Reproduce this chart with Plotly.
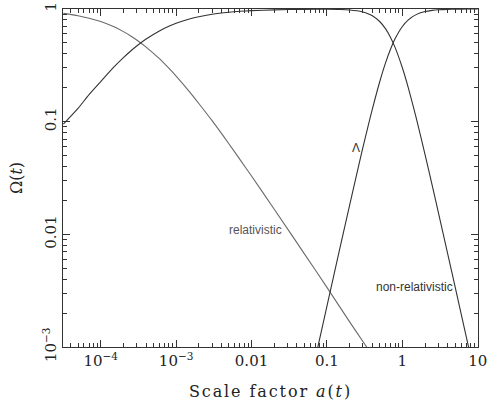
import plotly.graph_objects as go

# Scale factor samples
a_rel = [3.2e-5, 5e-5, 7e-5, 1e-4, 1.5e-4, 2e-4, 2.5e-4, 3e-4, 4e-4, 6e-4, 8e-4, 1e-3, 1.5e-3,
         2e-3, 3e-3, 5e-3, 7e-3, 0.01, 0.02, 0.05, 0.1, 0.2, 0.3, 0.4, 0.5]
omega_rel = [0.914, 0.872, 0.829, 0.773, 0.694, 0.630, 0.576, 0.531, 0.459, 0.362, 0.298, 0.254,
             0.185, 0.145, 0.102, 0.0637, 0.0463, 0.0329, 0.0167, 0.00675, 0.00338, 0.00167,
             0.00112, 0.00084, 0.00066]

a_mat = [3.2e-5, 5e-5, 7e-5, 1e-4, 1.5e-4, 2e-4, 2.5e-4, 3e-4, 4e-4, 6e-4, 8e-4, 1e-3, 1.5e-3,
         2e-3, 3e-3, 5e-3, 7e-3, 0.01, 0.02, 0.05, 0.1, 0.15, 0.2, 0.25, 0.3, 0.35, 0.4, 0.5,
         0.6, 0.7, 0.8, 1.0, 1.2, 1.5, 2, 2.5, 3, 4, 5, 7.5, 10]
omega_mat = [0.095, 0.131, 0.174, 0.227, 0.306, 0.370, 0.424, 0.469, 0.541, 0.638, 0.702, 0.746,
             0.815, 0.855, 0.898, 0.936, 0.954, 0.967, 0.983, 0.993, 0.994, 0.990, 0.980, 0.9637,
             0.940, 0.9086, 0.870, 0.7745, 0.6656, 0.5563, 0.4566, 0.3009, 0.1994, 0.1131, 0.0510,
             0.0268, 0.0157, 0.00668, 0.00343, 0.00102, 0.00043]

a_lam = [0.05, 0.07, 0.1, 0.15, 0.2, 0.25, 0.3, 0.35, 0.4, 0.5, 0.6, 0.7, 0.8, 1.0, 1.2, 1.5,
         2, 2.5, 3, 4, 5, 7.5, 10]
omega_lam = [0.00029, 0.00079, 0.00231, 0.00776, 0.0182, 0.0350, 0.0590, 0.0905, 0.1294, 0.225,
             0.334, 0.4434, 0.5433, 0.699, 0.8006, 0.8869, 0.949, 0.973, 0.984, 0.9933, 0.9966,
             0.999, 0.9996]

x_tickvals = [1e-4, 1e-3, 1e-2, 1e-1, 1, 10]
x_ticktext = ["10<sup>−4</sup>", "10<sup>−3</sup>", "0.01", "0.1", "1", "10"]
y_tickvals = [1e-3, 1e-2, 1e-1, 1]
y_ticktext = ["10<sup>−3</sup>", "0.01", "0.1", "1"]

x_minor = [m * 10.0 ** e for e in range(-5, 1) for m in range(2, 10)]
y_minor = [m * 10.0 ** e for e in range(-3, 0) for m in range(2, 10)]

fig = go.Figure()
fig.add_trace(go.Scatter(x=a_rel, y=omega_rel, mode="lines",
                         line=dict(color="#6a6a6a", width=1.1, shape="spline", smoothing=0.6),
                         showlegend=False))
fig.add_trace(go.Scatter(x=a_mat, y=omega_mat, mode="lines",
                         line=dict(color="#333333", width=1.1, shape="spline", smoothing=0.6),
                         showlegend=False))
fig.add_trace(go.Scatter(x=a_lam, y=omega_lam, mode="lines",
                         line=dict(color="#333333", width=1.1, shape="spline", smoothing=0.6),
                         showlegend=False))
# helper trace so the minor-tick overlay axes are drawn
fig.add_trace(go.Scatter(x=[1e-2], y=[1e-2], xaxis="x2", yaxis="y2", mode="markers",
                         marker=dict(opacity=0), showlegend=False, hoverinfo="skip"))

serif = "DejaVu Serif"
sans = "Liberation Sans"
ink = "#333333"

axis_common = dict(
    type="log",
    showline=True, linecolor=ink, linewidth=1.2,
    mirror="allticks",
    ticks="inside", ticklen=7, tickwidth=1, tickcolor=ink,
    showgrid=False, zeroline=False, automargin=False,
    ticklabeloverflow="allow",
    tickfont=dict(family=serif, size=15, color="#222222"),
)
minor_common = dict(
    type="log", showline=False, mirror="allticks",
    ticks="inside", ticklen=4, tickwidth=1, tickcolor=ink,
    showgrid=False, zeroline=False, showticklabels=False, automargin=False,
    tickmode="array",
)

x_range = [-4.5, 1.003]

fig.update_layout(
    width=488, height=409,
    margin=dict(l=63, r=10, t=9, b=62),
    paper_bgcolor="white", plot_bgcolor="white",
    xaxis=dict(
        **axis_common,
        range=x_range,
        tickmode="array", tickvals=x_tickvals, ticktext=x_ticktext,
        title=dict(text="<span style=\"letter-spacing:1.9px\">Scale factor <i>a</i>(<i>t</i>)</span>",
                   font=dict(family=serif, size=16, color="#222222"), standoff=16),
    ),
    yaxis=dict(
        **axis_common,
        range=[-3, 0],
        tickmode="array", tickvals=y_tickvals, ticktext=y_ticktext,
        tickangle=-90,
        title=dict(text="Ω(<i>t</i>)",
                   font=dict(family=serif, size=16, color="#222222"), standoff=12),
    ),
    xaxis2=dict(**minor_common, range=x_range, tickvals=x_minor,
                overlaying="x", anchor="y2", side="bottom"),
    yaxis2=dict(**minor_common, range=[-3, 0], tickvals=y_minor,
                overlaying="y", anchor="x2", side="left"),
    annotations=[
        dict(x=-1.946, y=-1.961, xref="x", yref="y", text="relativistic", showarrow=False,
             font=dict(family=sans, size=12, color="#555555")),
        dict(x=0.165, y=-2.467, xref="x", yref="y", text="non-relativistic", showarrow=False,
             font=dict(family=sans, size=12, color="#333333")),
        dict(x=-0.617, y=-1.232, xref="x", yref="y", text="Λ", showarrow=False,
             font=dict(family=sans, size=12, color="#333333")),
    ],
)

fig.write_html("out.html")
